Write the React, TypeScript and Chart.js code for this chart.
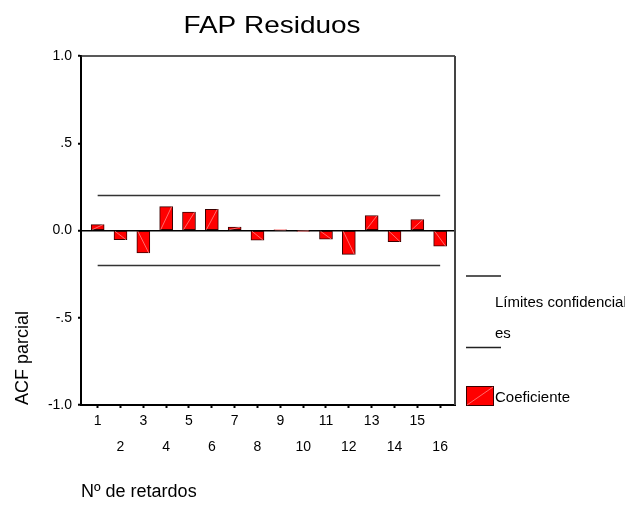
import React, { useEffect, useRef } from 'react';
import { Chart, registerables } from 'chart.js';

Chart.register(...registerables);

const chartTitle = 'FAP Residuos';
const xTitle = 'Nº de retardos';
const yTitle = 'ACF parcial';
const lags = [1, 2, 3, 4, 5, 6, 7, 8, 9, 10, 11, 12, 13, 14, 15, 16];
const pacf = [0.034, -0.053, -0.129, 0.137, 0.105, 0.122, 0.019, -0.055, 0.003, -0.002, -0.05, -0.137, 0.086, -0.064, 0.063, -0.09];
const limitLags = [1, 16];
const upperLimit = [0.2, 0.2];
const lowerLimit = [-0.2, -0.2];
const yTickValues = [-1, -0.5, 0, 0.5, 1];
const yTickLabels = ['-1.0', '-.5', '0.0', '.5', '1.0'];
const legendLimitsLines = ['Límites confidencial', 'es'];
const legendCoef = 'Coeficiente';

const FONT = "'Liberation Sans', Arial, sans-serif";

const decorPlugin = {
  id: 'decor',
  afterDatasetsDraw(chart: any) {
    const ctx = chart.ctx;
    const meta = chart.getDatasetMeta(0);
    ctx.save();
    ctx.strokeStyle = 'rgba(255,170,170,0.9)';
    ctx.lineWidth = 0.7;
    meta.data.forEach((bar: any) => {
      const { x, y, base, width } = bar.getProps(['x', 'y', 'base', 'width'], true);
      ctx.beginPath();
      ctx.moveTo(x - width / 2 + 1, base);
      ctx.lineTo(x + width / 2 - 1, y);
      ctx.stroke();
    });
    ctx.restore();
  },
  afterDraw(chart: any) {
    const ctx = chart.ctx;
    const a = chart.chartArea;
    ctx.save();
    // top and right frame
    ctx.strokeStyle = '#222';
    ctx.lineWidth = 1.5;
    ctx.beginPath();
    ctx.moveTo(a.left, a.top);
    ctx.lineTo(a.right, a.top);
    ctx.stroke();
    ctx.strokeStyle = '#444';
    ctx.lineWidth = 2;
    ctx.beginPath();
    ctx.moveTo(a.right, a.top);
    ctx.lineTo(a.right, a.bottom);
    ctx.stroke();

    // title (slightly stretched like the original)
    ctx.save();
    ctx.fillStyle = '#000';
    ctx.font = `24px ${FONT}`;
    ctx.textAlign = 'center';
    ctx.textBaseline = 'alphabetic';
    ctx.translate((a.left + a.right) / 2 + 4, 25);
    ctx.scale(1.165, 1);
    ctx.fillText(chartTitle, 0, 0);
    ctx.restore();

    // legend
    const lx = a.right + 11;
    ctx.strokeStyle = '#222';
    ctx.lineWidth = 1.5;
    ctx.beginPath();
    ctx.moveTo(lx, 268);
    ctx.lineTo(lx + 35, 268);
    ctx.moveTo(lx, 339.5);
    ctx.lineTo(lx + 35, 339.5);
    ctx.stroke();
    ctx.fillStyle = '#000';
    ctx.font = `15px ${FONT}`;
    ctx.textAlign = 'left';
    ctx.textBaseline = 'middle';
    ctx.fillText(legendLimitsLines[0], lx + 29, 295);
    ctx.fillText(legendLimitsLines[1], lx + 29, 326);
    ctx.fillText(legendCoef, lx + 29, 390);
    ctx.fillStyle = '#ff0000';
    ctx.fillRect(lx, 378, 28, 20);
    ctx.strokeStyle = '#3a0000';
    ctx.lineWidth = 1;
    ctx.strokeRect(lx + 0.5, 378.5, 27, 19);
    ctx.strokeStyle = 'rgba(255,170,170,0.9)';
    ctx.lineWidth = 0.7;
    ctx.beginPath();
    ctx.moveTo(lx + 1, 397);
    ctx.lineTo(lx + 27, 379);
    ctx.stroke();
    ctx.restore();
  },
};

export default function App() {
  const ref = useRef<HTMLCanvasElement | null>(null);

  useEffect(() => {
    if (!ref.current) return;
    Chart.defaults.font.family = FONT;
    const chart = new Chart(ref.current, {
      type: 'bar',
      data: {
        datasets: [
          {
            type: 'bar',
            label: legendCoef,
            data: lags.map((l, i) => ({ x: l, y: pacf[i] })),
            backgroundColor: '#ff0000',
            borderColor: '#3a0000',
            borderWidth: 1,
            borderSkipped: false,
            barThickness: 13,
            order: 2,
          } as any,
          {
            type: 'line',
            label: 'upper',
            data: limitLags.map((l, i) => ({ x: l, y: upperLimit[i] })),
            borderColor: '#333',
            borderWidth: 1.5,
            pointRadius: 0,
            order: 1,
          } as any,
          {
            type: 'line',
            label: 'lower',
            data: limitLags.map((l, i) => ({ x: l, y: lowerLimit[i] })),
            borderColor: '#333',
            borderWidth: 1.5,
            pointRadius: 0,
            order: 1,
          } as any,
        ],
      },
      options: {
        animation: false,
        responsive: true,
        maintainAspectRatio: false,
        layout: { padding: { top: 48, right: 178, bottom: 0, left: 0 } },
        plugins: {
          legend: { display: false },
          title: { display: false },
          tooltip: { enabled: false },
        },
        scales: {
          x: {
            type: 'linear',
            offset: false,
            min: 0.27,
            max: 16.65,
            afterBuildTicks: (s: any) => {
              s.ticks = lags.map((v) => ({ value: v }));
            },
            afterFit: (s: any) => {
              s.height = 96;
            },
            ticks: {
              autoSkip: false,
              maxRotation: 0,
              minRotation: 0,
              padding: 0,
              color: '#000',
              font: { size: 14, lineHeight: 26 / 14 },
              callback: (v: any) => (Number(v) % 2 === 1 ? [String(v)] : ['', String(v)]),
            },
            grid: {
              offset: false,
              drawOnChartArea: false,
              drawTicks: true,
              tickLength: 3,
              tickWidth: 2,
              tickColor: '#000',
            },
            border: { display: true, color: '#000', width: 2 },
            title: {
              display: true,
              text: xTitle,
              align: 'start',
              color: '#000',
              font: { size: 18, lineHeight: 1 },
              padding: { top: 0, bottom: 0 },
            },
          } as any,
          y: {
            type: 'linear',
            min: -1,
            max: 1,
            afterBuildTicks: (s: any) => {
              s.ticks = yTickValues.map((v) => ({ value: v }));
            },
            afterFit: (s: any) => {
              s.width = 73;
            },
            ticks: {
              padding: 6,
              color: '#000',
              font: { size: 14 },
              callback: (v: any) => yTickLabels[yTickValues.indexOf(Number(v))],
            },
            grid: {
              drawTicks: true,
              tickLength: 3,
              tickWidth: 2,
              tickColor: '#000',
              lineWidth: 1.5,
              color: (c: any) => (c.tick && c.tick.value === 0 ? '#000' : 'rgba(0,0,0,0)'),
            },
            border: { display: true, color: '#000', width: 2 },
            title: {
              display: true,
              text: yTitle,
              align: 'start',
              color: '#000',
              font: { size: 18, lineHeight: 1 },
              padding: { top: 6, bottom: 0 },
            },
          } as any,
        },
      },
      plugins: [decorPlugin],
    });
    return () => chart.destroy();
  }, []);

  return (
    <div style={{ position: 'relative', width: 625, height: 493 }}>
      <canvas ref={ref} />
    </div>
  );
}
